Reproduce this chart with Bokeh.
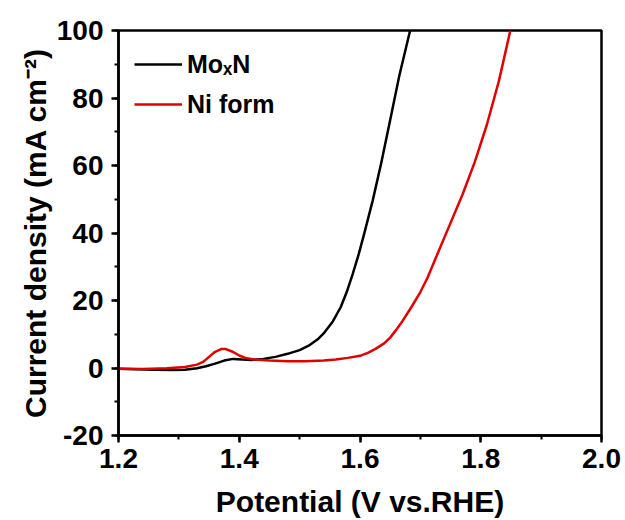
from bokeh.plotting import figure
from bokeh.models import (Range1d, SingleIntervalTicker, PrintfTickFormatter,
                          Legend, LegendItem)
from bokeh.embed import file_html
from bokeh.resources import INLINE

# ---- data ----
mox_v = [1.20, 1.23, 1.26, 1.29, 1.31, 1.33, 1.345, 1.36, 1.375, 1.39, 1.405,
         1.42, 1.44, 1.46, 1.48, 1.50, 1.515, 1.53, 1.541, 1.555, 1.568,
         1.578, 1.588, 1.598, 1.607, 1.621, 1.635, 1.65, 1.665, 1.683]
mox_j = [-0.2, -0.4, -0.5, -0.6, -0.5, -0.1, 0.5, 1.3, 2.2, 2.7, 2.5,
         2.4, 2.7, 3.3, 4.2, 5.3, 6.6, 8.5, 10.5, 13.8, 18.0,
         22.5, 27.9, 33.8, 39.8, 49.6, 60.6, 73.5, 86.5, 100.0]

ni_v = [1.20, 1.24, 1.28, 1.31, 1.33, 1.34, 1.35, 1.36, 1.37, 1.378, 1.388,
        1.40, 1.41, 1.425, 1.45, 1.48, 1.51, 1.54, 1.56, 1.58, 1.60, 1.613,
        1.625, 1.64, 1.65, 1.66, 1.67, 1.685, 1.70, 1.712, 1.73, 1.75, 1.77,
        1.79, 1.81, 1.83, 1.849]
ni_j = [-0.2, -0.3, -0.1, 0.3, 1.0, 1.8, 3.3, 4.8, 5.6, 5.6, 4.9,
        3.7, 3.0, 2.5, 2.2, 2.0, 2.0, 2.2, 2.5, 3.0, 3.6, 4.5,
        5.6, 7.3, 9.0, 11.3, 13.8, 18.0, 22.5, 26.8, 34.5, 43.0, 51.5,
        61.0, 72.0, 85.0, 100.0]

series_names = ["Mo\u2093N", "Ni form"]
series_colors = ["#000000", "#e00000"]

FONT = "Liberation Sans"

p = figure(width=625, height=520, output_backend="svg", toolbar_location=None,
           x_range=Range1d(1.2, 2.0), y_range=Range1d(-20, 100),
           min_border_left=118, min_border_right=24,
           min_border_top=30, min_border_bottom=85,
           background_fill_color="white", border_fill_color="white")

p.xgrid.visible = False
p.ygrid.visible = False
p.outline_line_color = "black"
p.outline_line_width = 2.5
p.outline_line_alpha = 1.0

r1 = p.line(mox_v, mox_j, line_color=series_colors[0], line_width=2.5,
            line_join="round")
r2 = p.line(ni_v, ni_j, line_color=series_colors[1], line_width=2.5,
            line_join="round")

p.xaxis.ticker = SingleIntervalTicker(interval=0.2, num_minor_ticks=2)
p.yaxis.ticker = SingleIntervalTicker(interval=20, num_minor_ticks=2)
p.xaxis.formatter = PrintfTickFormatter(format="%.1f")
p.yaxis.formatter = PrintfTickFormatter(format="%d")

p.xaxis.axis_label = "Potential (V vs.RHE)"
p.yaxis.axis_label = "Current density (mA cm\u207b\u00b2)"

for ax in (p.xaxis, p.yaxis):
    ax.axis_line_width = 2.5
    ax.axis_line_color = "black"
    ax.major_tick_in = 0
    ax.major_tick_out = 7
    ax.minor_tick_in = 0
    ax.minor_tick_out = 4
    ax.major_tick_line_width = 2.5
    ax.minor_tick_line_width = 2
    ax.major_tick_line_color = "black"
    ax.minor_tick_line_color = "black"
    ax.major_label_text_font = FONT
    ax.major_label_text_font_style = "bold"
    ax.major_label_text_font_size = "28px"
    ax.major_label_text_color = "black"
    ax.axis_label_text_font = FONT
    ax.axis_label_text_font_style = "bold"
    ax.axis_label_text_font_size = "30px"
    ax.axis_label_text_color = "black"

p.xaxis.major_label_standoff = 6
p.yaxis.major_label_standoff = 8
p.xaxis.axis_label_standoff = 14
p.yaxis.axis_label_standoff = 2

legend = Legend(items=[LegendItem(label=series_names[0], renderers=[r1]),
                       LegendItem(label=series_names[1], renderers=[r2])],
                location="top_left", border_line_color=None,
                background_fill_alpha=0.0,
                label_text_font=FONT, label_text_font_style="bold",
                label_text_font_size="25px", label_text_color="black",
                glyph_width=48, glyph_height=36, label_height=36,
                label_standoff=5, spacing=4,
                padding=7, margin=16)
p.add_layout(legend)

open("out.html", "w").write(file_html(p, INLINE))
